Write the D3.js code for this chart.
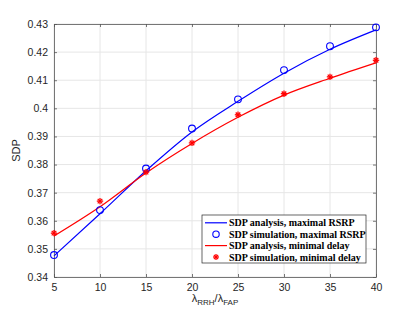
<!DOCTYPE html>
<html>
<head>
<meta charset="utf-8">
<script src="https://cdn.jsdelivr.net/npm/d3@7"></script>
<style>
  body { margin: 0; background: #fff; }
  svg { display: block; }
</style>
</head>
<body>
<svg width="415" height="312"></svg>
<script>
const ratios = [5, 10, 15, 20, 25, 30, 35, 40];
const rsrpAnalysis = [0.3475, 0.3625, 0.3778, 0.3916, 0.4025, 0.4125, 0.4210, 0.4279];
const rsrpSim = [0.3478, 0.3638, 0.3786, 0.3928, 0.4032, 0.4136, 0.4221, 0.4288];
const delayAnalysis = [0.3546, 0.3650, 0.3770, 0.3875, 0.3968, 0.4047, 0.4107, 0.4162];
const delaySim = [0.3556, 0.3670, 0.3773, 0.3877, 0.3977, 0.4052, 0.4112, 0.4171];
const xTicks = [5, 10, 15, 20, 25, 30, 35, 40];
const yTicks = [0.34, 0.35, 0.36, 0.37, 0.38, 0.39, 0.4, 0.41, 0.42, 0.43];
const legendLabels = [
  "SDP analysis, maximal RSRP",
  "SDP simulation, maximal RSRP",
  "SDP analysis, minimal delay",
  "SDP simulation, minimal delay"
];

const margin = { left: 54, right: 39, top: 24, bottom: 35 };
const width = 415, height = 312;
const svg = d3.select("svg");

const x = d3.scaleLinear().domain([5, 40]).range([margin.left, width - margin.right]);
const y = d3.scaleLinear().domain([0.34, 0.43]).range([height - margin.bottom, margin.top]);

const font = "'Liberation Sans', Arial, sans-serif";
const axisColor = "#262626";

// grid
const grid = svg.append("g");
grid.selectAll("line.gx").data(xTicks).enter().append("line")
  .attr("x1", d => x(d)).attr("x2", d => x(d))
  .attr("y1", y(0.34)).attr("y2", y(0.43))
  .attr("stroke", "#e6e6e6").attr("stroke-width", 1);
grid.selectAll("line.gy").data(yTicks).enter().append("line")
  .attr("x1", x(5)).attr("x2", x(40))
  .attr("y1", d => y(d)).attr("y2", d => y(d))
  .attr("stroke", "#e6e6e6").attr("stroke-width", 1);

// axes
const styleAxis = g => {
  g.selectAll("path.domain").attr("stroke", "#555").attr("stroke-width", 0.8);
  g.selectAll(".tick line").attr("stroke", "#555").attr("stroke-width", 0.8);
  g.selectAll("text").attr("font-family", font).attr("font-size", 10.5).attr("fill", axisColor);
};
svg.append("g").attr("transform", `translate(0,${y(0.34)})`)
  .call(d3.axisBottom(x).tickValues(xTicks).tickSizeInner(-3).tickSizeOuter(0).tickPadding(7))
  .call(styleAxis);
svg.append("g").attr("transform", `translate(0,${y(0.43)})`)
  .call(d3.axisTop(x).tickValues(xTicks).tickSizeInner(-3).tickSizeOuter(0).tickFormat(""))
  .call(styleAxis);
svg.append("g").attr("transform", `translate(${x(5)},0)`)
  .call(d3.axisLeft(y).tickValues(yTicks).tickSizeInner(-3).tickSizeOuter(0).tickPadding(6).tickFormat(d3.format("")))
  .call(styleAxis);
svg.append("g").attr("transform", `translate(${x(40)},0)`)
  .call(d3.axisRight(y).tickValues(yTicks).tickSizeInner(-3).tickSizeOuter(0).tickFormat(""))
  .call(styleAxis);

// lines
const line = d3.line().x((d, i) => x(ratios[i])).y(d => y(d)).curve(d3.curveMonotoneX);
svg.append("path").datum(rsrpAnalysis).attr("d", line)
  .attr("fill", "none").attr("stroke", "#0000ff").attr("stroke-width", 1.2);
svg.append("path").datum(delayAnalysis).attr("d", line)
  .attr("fill", "none").attr("stroke", "#ff0000").attr("stroke-width", 1.2);

// circles
svg.append("g").selectAll("circle").data(rsrpSim).enter().append("circle")
  .attr("cx", (d, i) => x(ratios[i])).attr("cy", d => y(d)).attr("r", 3.4)
  .attr("fill", "none").attr("stroke", "#0000ff").attr("stroke-width", 1.1);

// stars
const star = (g, cx, cy, r) => {
  for (let k = 0; k < 4; k++) {
    const a = k * Math.PI / 4;
    g.append("line")
      .attr("x1", cx - r * Math.cos(a)).attr("y1", cy - r * Math.sin(a))
      .attr("x2", cx + r * Math.cos(a)).attr("y2", cy + r * Math.sin(a))
      .attr("stroke", "#ff0000").attr("stroke-width", 1.3);
  }
};
const starG = svg.append("g");
delaySim.forEach((d, i) => star(starG, x(ratios[i]), y(d), 3.2));

// legend
const lg = svg.append("g");
const lx = 202, ly = 215, lw = 164, lh = 48, rowH = 11.4;
lg.append("rect").attr("x", lx).attr("y", ly).attr("width", lw).attr("height", lh)
  .attr("fill", "#fff").attr("stroke", axisColor).attr("stroke-width", 0.7);
legendLabels.forEach((t, i) => {
  const cy = ly + 7.8 + i * rowH;
  if (i === 0 || i === 2) {
    lg.append("line").attr("x1", lx + 3).attr("x2", lx + 25).attr("y1", cy).attr("y2", cy)
      .attr("stroke", i === 0 ? "#0000ff" : "#ff0000").attr("stroke-width", 1.2);
  } else if (i === 1) {
    lg.append("circle").attr("cx", lx + 14).attr("cy", cy).attr("r", 3.2)
      .attr("fill", "none").attr("stroke", "#0000ff").attr("stroke-width", 1.1);
  } else {
    star(lg, lx + 14, cy, 3);
  }
  lg.append("text").attr("x", lx + 27).attr("y", cy).attr("dy", "0.35em")
    .attr("font-family", "'Liberation Serif', 'Times New Roman', serif")
    .attr("font-weight", "bold").attr("font-size", 10).attr("fill", "#000")
    .text(t);
});

// axis labels
svg.append("text").attr("transform", `translate(20,${(y(0.34) + y(0.43)) / 2}) rotate(-90)`)
  .attr("text-anchor", "middle").attr("font-family", font).attr("font-size", 11).attr("fill", axisColor)
  .text("SDP");

const xl = svg.append("text").attr("x", (x(5) + x(40)) / 2).attr("y", 302)
  .attr("text-anchor", "middle").attr("font-family", font).attr("font-size", 11).attr("fill", axisColor);
xl.append("tspan").text("λ");
xl.append("tspan").attr("font-size", 8).attr("dy", 3).text("RRH");
xl.append("tspan").attr("dy", -3).text("/λ");
xl.append("tspan").attr("font-size", 8).attr("dy", 3).text("FAP");
</script>
</body>
</html>
